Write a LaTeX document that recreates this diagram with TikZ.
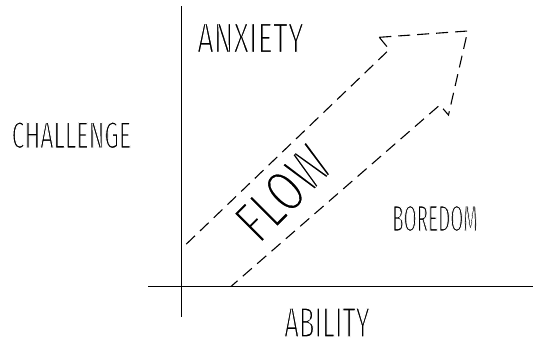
\documentclass[tikz,border=0pt]{standalone}
\usepackage{fontspec}
\usepackage{graphicx}
\newfontfamily\hand{Fira Sans}
\newcommand{\thinon}{\special{pdf:literal direct 2 Tr 1 1 1 RG 1.5 w}}
\newcommand{\thinoff}{\special{pdf:literal direct 0 Tr 0 0 0 RG}}
\newcommand{\lbl}[3]{\resizebox{#1pt}{#2pt}{\fontsize{40}{40}\selectfont\hand\thinon #3\thinoff}}
\tikzset{
  axis/.style={line width=1.3pt, black},
  dashedge/.style={line width=1.1pt, black, dash pattern=on 12pt off 7pt, line join=miter},
  lab/.style={inner sep=0pt, outer sep=0pt, anchor=center}
}
\begin{document}
\begin{tikzpicture}[x=1pt,y=-1pt]
\useasboundingbox (0,0) rectangle (533,341);
% labels
\node[lab] (anx) at (250.5,38) {\lbl{106.5}{29.5}{ANXIETY}};
\node[lab] (cha) at (71.5,135.2) {\lbl{119.5}{26.5}{CHALLENGE}};
\node[lab] (bor) at (435,218.5) {\lbl{85.5}{26}{BOREDOM}};
\node[lab] (abi) at (327,322.5) {\lbl{85.5}{29.5}{ABILITY}};
\node[lab, rotate=45] (flo) at (283,193) {\lbl{107.5}{41.5}{FLOW}};
% axes
\coordinate (vtop) at (181.7,6);
\coordinate (vbot) at (181.7,317);
\coordinate (hleft) at (148.3,286.7);
\coordinate (hright) at (533,286.7);
\draw[axis] (vtop) -- (vbot);
\draw[axis] (hleft) -- (hright);
% arrow outline
\coordinate (ustart) at (181.7,248.5);
\coordinate (uend) at (389.3,49.5);
\coordinate (nup) at (379.3,37.3);
\coordinate (tip) at (467.7,31);
\coordinate (nlow) at (448.5,115);
\coordinate (lend) at (439.8,105);
\coordinate (lstart) at (230.7,286.7);
\draw[dashedge] (nup) -- (uend) -- (ustart);
\draw[dashedge] (nup) -- (tip) -- (nlow) -- (lend) -- (lstart);
\end{tikzpicture}
\end{document}
